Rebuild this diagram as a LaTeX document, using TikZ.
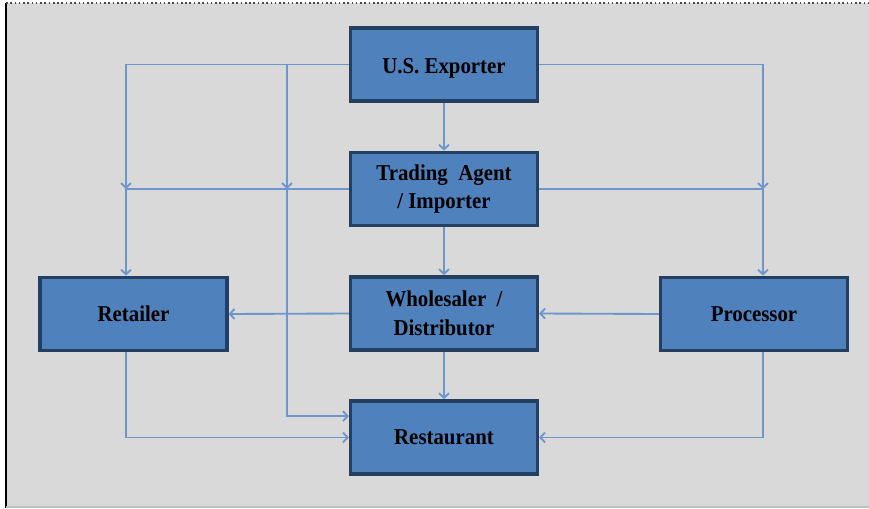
\documentclass[tikz,border=0pt]{standalone}
\usepackage{fontspec}
\setmainfont{Liberation Serif}[FakeStretch=0.92]
\usetikzlibrary{arrows.meta}
\definecolor{boxblue}{HTML}{4F81BD}
\definecolor{boxedge}{HTML}{243F60}
\definecolor{linkblue}{HTML}{6F96CC}
\definecolor{panelgray}{HTML}{D9D9D9}
\begin{document}
\begin{tikzpicture}[x=0.75pt, y=-0.75pt,
  box/.style={rectangle, draw=boxedge, line width=2.6pt, fill=boxblue, minimum width=140pt, minimum height=55pt, inner sep=0pt, align=center, font=\bfseries\fontsize{17}{21.5}\selectfont},
  link/.style={draw=linkblue, line width=1.4pt, -{Straight Barb[length=3.5pt,width=7.5pt]}}]
\useasboundingbox (0,0) rectangle (869,508);
\fill[panelgray] (6,3) rectangle (869,507);
\draw[black, line width=1.2pt] (6,3) -- (6,508);
\draw[black!70, line width=1.2pt, dotted] (6,3) -- (869,3);
\draw[black!25, line width=0.8pt] (6,507) -- (869,507);
\node[box, text height=17pt] (exporter) at (444,64.5) {U.S. Exporter};
\node[box] (trading) at (444,189) {Trading\ \ Agent\\/ Importer};
\node[box] (wholesaler) at (444,313.5) {Wholesaler\ \ /\\Distributor};
\node[box] (restaurant) at (444,437.5) {Restaurant};
\node[box] (retailer) at (133.5,314) {Retailer};
\node[box] (processor) at (754,314) {Processor};
\coordinate (lcol) at (126,0);
\coordinate (mcol) at (287,0);
\coordinate (rcol) at (763,0);
\draw[link] (exporter) -- (trading);
\draw[link] (trading) -- (wholesaler);
\draw[link] (wholesaler) -- (restaurant);
\draw[link] (wholesaler.west) -- (retailer.east);
\draw[link] (processor.west) -- (wholesaler.east);
\draw[link] (exporter.west) -| (lcol |- trading.west);
\draw[link] (exporter.west) -| (mcol |- trading.west);
\draw[link] (exporter.east) -| (rcol |- trading.east);
\draw[link] (trading.west) -| (retailer.north -| lcol);
\draw[link] (trading.east) -| (processor.north -| rcol);
\draw[link] (trading.west) -- (mcol |- trading.west) |- ([yshift=16pt]restaurant.west);
\draw[link] (retailer.south -| lcol) |- (restaurant.west);
\draw[link] (processor.south -| rcol) |- (restaurant.east);
\end{tikzpicture}
\end{document}
